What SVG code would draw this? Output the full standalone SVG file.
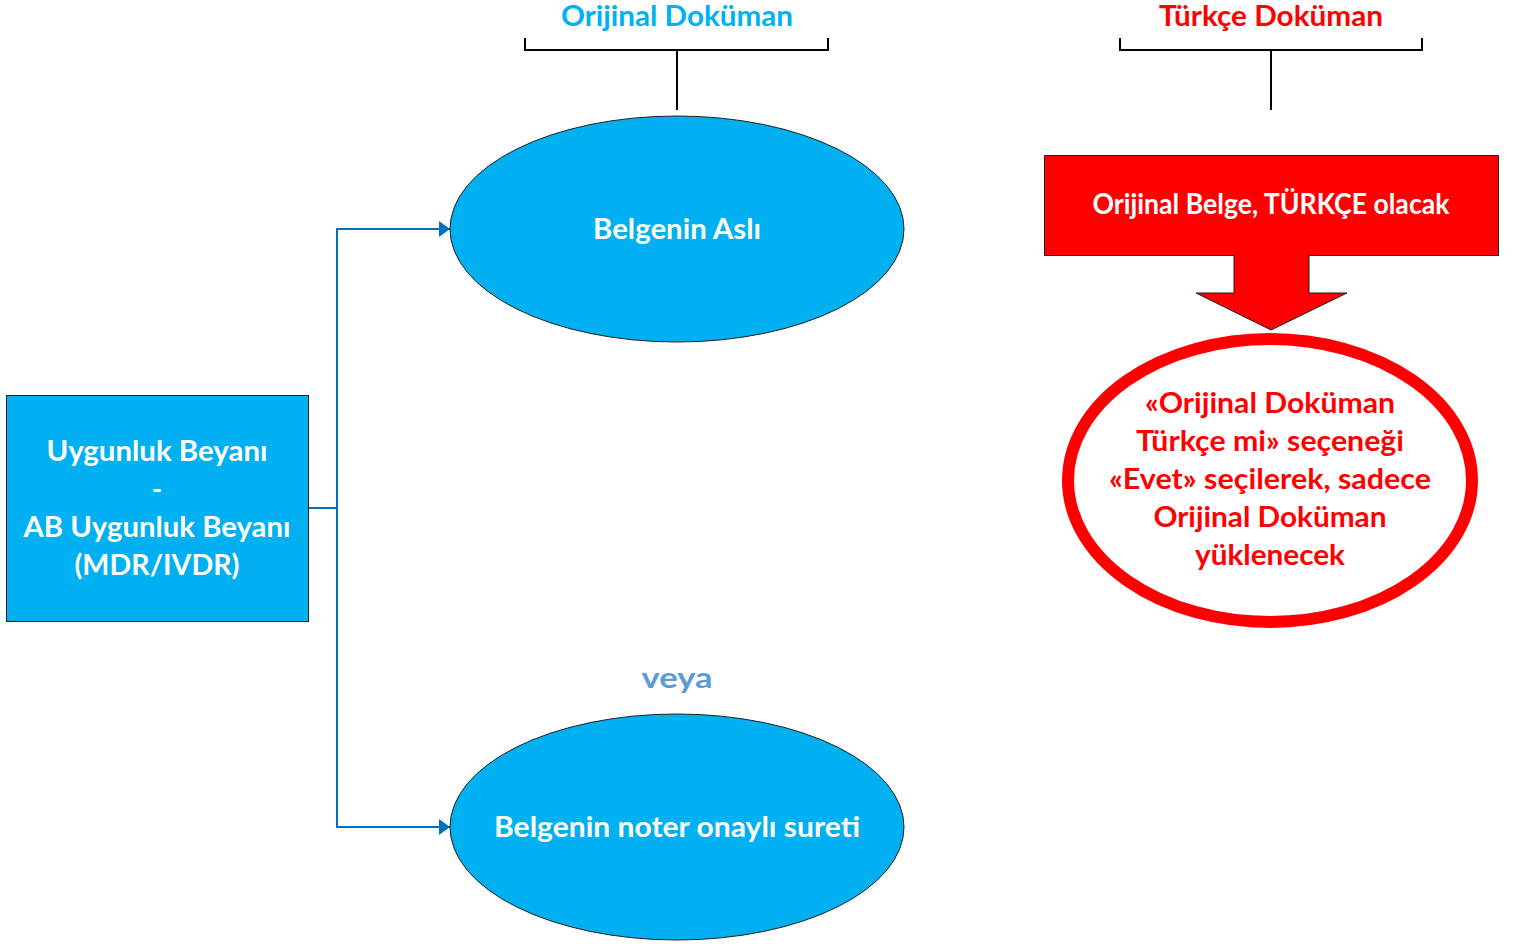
<svg xmlns="http://www.w3.org/2000/svg" width="1513" height="944" viewBox="0 0 1513 944">
<style>
  text { font-family: Lato, "Liberation Sans", sans-serif; font-weight: bold; font-size: 28px; text-anchor: middle; }
  .w { fill: #ffffff; }
  .r { fill: #ff0000; }
  .c { fill: #00b0f0; }
  .blue { fill: #00b0f0; stroke: #1f1f1f; stroke-width: 1; }
  .bracket { fill: none; stroke: #000000; stroke-width: 2; }
  .conn { fill: none; stroke: #0070c0; stroke-width: 2; }
</style>
<defs>
  <marker id="arr" viewBox="0 0 11 16" refX="11" refY="8" markerWidth="11" markerHeight="16" orient="auto" markerUnits="userSpaceOnUse">
    <path d="M0,0 L11,8 L0,16 Z" fill="#0070c0"/>
  </marker>
</defs>
<rect width="1513" height="944" fill="#ffffff"/>

<g id="header-orijinal">
  <text class="c" x="677" y="26" textLength="232" lengthAdjust="spacingAndGlyphs">Orijinal Doküman</text>
  <path class="bracket" d="M525,38 V50 H828 V38 M677,50 V110"/>
</g>
<g id="header-turkce">
  <text class="r" x="1271" y="26" textLength="224" lengthAdjust="spacingAndGlyphs">Türkçe Doküman</text>
  <path class="bracket" d="M1120,38 V50 H1422 V38 M1271,50 V110"/>
</g>

<g id="connectors">
  <path class="conn" d="M308,508 H337 V229 H450" marker-end="url(#arr)"/>
  <path class="conn" d="M337,508 V827 H450" marker-end="url(#arr)"/>
</g>

<g id="uygunluk">
  <rect class="blue" x="6.5" y="395.5" width="302" height="226"/>
  <text class="w" x="157" y="461" textLength="221" lengthAdjust="spacingAndGlyphs">Uygunluk Beyanı</text>
  <text class="w" x="157" y="499">-</text>
  <text class="w" x="157" y="537" textLength="267" lengthAdjust="spacingAndGlyphs">AB Uygunluk Beyanı</text>
  <text class="w" x="157" y="575" textLength="165" lengthAdjust="spacingAndGlyphs">(MDR/IVDR)</text>
</g>

<g id="belgenin-asli">
  <ellipse class="blue" cx="677" cy="229" rx="227" ry="113"/>
  <text class="w" x="677" y="239" textLength="168" lengthAdjust="spacingAndGlyphs">Belgenin Aslı</text>
</g>

<g id="veya">
  <text x="677" y="688" fill="#5b9bd5" textLength="71" lengthAdjust="spacingAndGlyphs">veya</text>
</g>

<g id="belgenin-noter">
  <ellipse class="blue" cx="677" cy="827" rx="227" ry="113"/>
  <text class="w" x="677" y="837" textLength="366" lengthAdjust="spacingAndGlyphs">Belgenin noter onaylı sureti</text>
</g>

<g id="orijinal-belge">
  <path d="M1044.5,155.5 H1498.5 V255.5 H1309 V293 H1347 L1271,330 L1196,293 H1234 V255.5 H1044.5 Z" fill="#ff0000" stroke="#1f1f1f" stroke-width="1"/>
  <text class="w" x="1271" y="214" textLength="357" lengthAdjust="spacingAndGlyphs">Orijinal Belge, TÜRKÇE olacak</text>
</g>

<g id="turkce-secenek">
  <ellipse cx="1270" cy="480.5" rx="202" ry="141.5" fill="#ffffff" stroke="#ff0000" stroke-width="12"/>
  <text class="r" x="1270" y="413" textLength="250" lengthAdjust="spacingAndGlyphs">«Orijinal Doküman</text>
  <text class="r" x="1270" y="451" textLength="268" lengthAdjust="spacingAndGlyphs">Türkçe mi» seçeneği</text>
  <text class="r" x="1270" y="489" textLength="322" lengthAdjust="spacingAndGlyphs">«Evet» seçilerek, sadece</text>
  <text class="r" x="1270" y="527" textLength="233" lengthAdjust="spacingAndGlyphs">Orijinal Doküman</text>
  <text class="r" x="1270" y="565" textLength="150" lengthAdjust="spacingAndGlyphs">yüklenecek</text>
</g>
</svg>
